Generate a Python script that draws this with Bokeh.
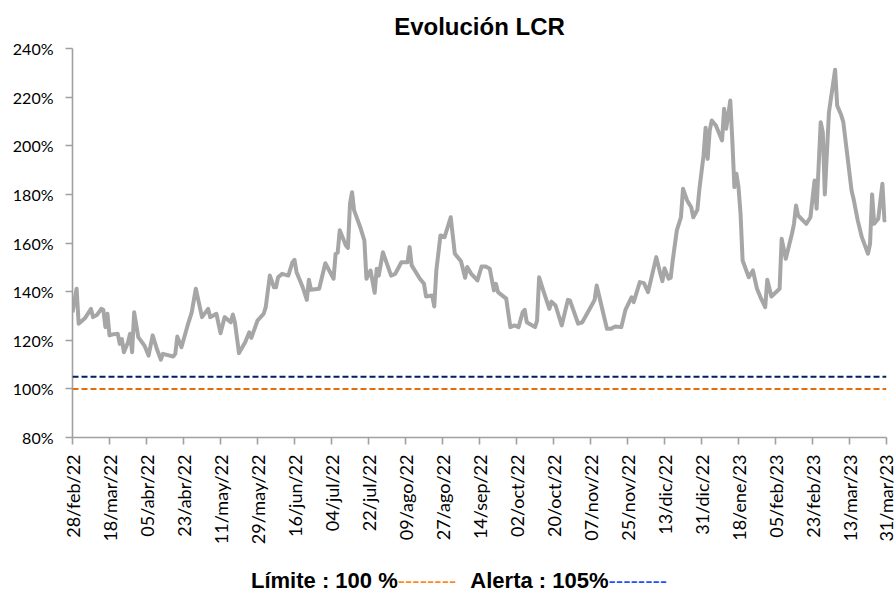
import datetime
from bokeh.plotting import figure
from bokeh.layouts import column
from bokeh.models import Range1d, FixedTicker, PrintfTickFormatter, Span, Div
from bokeh.embed import file_html
from bokeh.resources import INLINE

# ---- data ----
start_date = "2022-02-28"
day_offsets = [0, 2, 3, 4, 6, 9, 10, 12, 14, 15, 16, 17, 18, 20, 22, 23, 24, 25, 27, 28,
               29, 30, 32, 35, 37, 39, 41, 43, 44, 49, 50, 51, 53, 56, 58, 60, 63, 66, 67, 70,
               72, 74, 77, 78, 79, 81, 84, 86, 87, 90, 93, 94, 96, 98, 99, 100, 102, 105, 107, 108,
               109, 112, 114, 115, 116, 120, 123, 127, 128, 129, 130, 133, 134, 135, 136, 137, 140, 142, 143, 145,
               147, 148, 149, 151, 155, 157, 160, 163, 164, 165, 169, 171, 172, 175, 176, 177, 179, 181, 184, 186,
               189, 191, 192, 194, 197, 199, 201, 203, 205, 206, 207, 211, 213, 215, 217, 219, 220, 221, 225, 226,
               227, 229, 232, 233, 235, 238, 241, 242, 246, 248, 253, 254, 255, 260, 262, 264, 267, 269, 272, 273,
               276, 278, 280, 284, 286, 287, 288, 290, 291, 292, 294, 296, 297, 299, 301, 302, 304, 305, 307, 308,
               309, 310, 311, 313, 316, 317, 318, 320, 321, 322, 323, 324, 325, 326, 329, 331, 333, 335, 337, 338,
               340, 344, 345, 347, 350, 351, 352, 353, 357, 359, 361, 362, 364, 365, 366, 368, 371, 372, 374, 375,
               379, 380, 382, 384, 387, 388, 389, 390, 392, 394, 395, 396]
lcr = [131.5, 141.2, 126.8, 127.5, 129.0, 132.9, 129.5, 130.5, 132.9, 132.5, 125.4, 130.9, 122.0, 122.5, 122.7, 118.5, 120.5, 115.1, 119.2, 122.7,
       115.1, 131.5, 121.3, 117.8, 113.7, 122.0, 116.5, 112.0, 114.4, 113.3, 114.4, 121.5, 117.1, 126.1, 131.5, 141.2, 129.5, 132.9, 129.5, 130.9,
       122.9, 129.5, 127.4, 130.6, 127.4, 114.7, 119.2, 123.3, 121.0, 128.1, 130.9, 133.6, 146.6, 141.8, 141.8, 145.9, 147.3, 146.6, 152.1, 153.1,
       148.0, 141.8, 136.6, 144.9, 140.8, 141.2, 151.7, 145.3, 155.6, 156.0, 165.2, 159.0, 158.0, 176.1, 180.9, 173.4, 166.5, 161.0, 145.3, 148.7,
       139.5, 149.4, 146.6, 156.2, 146.6, 147.3, 152.1, 152.1, 158.3, 150.8, 145.3, 143.2, 138.0, 138.4, 133.9, 148.7, 163.1, 162.4, 170.6, 155.6,
       152.5, 145.7, 150.1, 147.3, 144.6, 150.3, 150.3, 149.4, 140.5, 143.2, 139.8, 137.1, 125.4, 126.1, 125.4, 131.5, 132.5, 127.4, 125.4, 128.0,
       145.9, 140.5, 132.9, 135.9, 134.3, 126.1, 136.6, 136.4, 126.8, 127.4, 135.0, 136.6, 142.5, 124.7, 124.7, 125.7, 125.4, 132.5, 137.7, 135.7,
       143.9, 143.5, 139.8, 154.2, 147.3, 144.3, 149.6, 145.3, 145.7, 152.8, 165.2, 170.6, 182.3, 177.5, 174.7, 170.6, 173.7, 182.3, 196.0, 207.4,
       194.6, 206.3, 210.4, 208.3, 202.2, 215.2, 207.0, 218.6, 202.2, 183.0, 188.5, 183.0, 172.0, 152.8, 145.9, 148.7, 141.2, 137.1, 133.6, 144.9,
       138.0, 141.2, 161.7, 153.5, 163.8, 167.9, 175.4, 171.3, 167.9, 170.6, 185.7, 174.1, 209.7, 205.6, 180.0, 213.8, 231.3, 216.6, 212.5, 209.7,
       181.6, 178.0, 169.3, 162.4, 155.6, 159.7, 180.0, 167.9, 170.0, 184.4, 169.3, 169.5]
tick_labels = ["28/feb/22", "18/mar/22", "05/abr/22", "23/abr/22", "11/may/22", "29/may/22",
               "16/jun/22", "04/jul/22", "22/jul/22", "09/ago/22", "27/ago/22", "14/sep/22",
               "02/oct/22", "20/oct/22", "07/nov/22", "25/nov/22", "13/dic/22", "31/dic/22",
               "18/ene/23", "05/feb/23", "23/feb/23", "13/mar/23", "31/mar/23"]
y_ticks = [80, 100, 120, 140, 160, 180, 200, 220, 240]
limit_value = 100
alert_value = 105
title_text = "Evolución LCR"
legend_limit = "Límite : 100 %"
legend_alert = "Alerta : 105%"

# ---- derived tick positions (days since start) ----
month_map = {"ene": 1, "feb": 2, "mar": 3, "abr": 4, "may": 5, "jun": 6, "jul": 7,
             "ago": 8, "sep": 9, "oct": 10, "nov": 11, "dic": 12}
start = datetime.date.fromisoformat(start_date)


def label_to_offset(lbl):
    d, m, y = lbl.split("/")
    return (datetime.date(2000 + int(y), month_map[m], int(d)) - start).days


tick_positions = [label_to_offset(l) for l in tick_labels]

# ---- figure ----
p = figure(width=896, height=560, output_backend="svg", toolbar_location=None,
           x_range=Range1d(tick_positions[0], tick_positions[-1]),
           y_range=Range1d(y_ticks[0], y_ticks[-1]),
           min_border_left=72, min_border_right=10, min_border_top=48, min_border_bottom=123)
p.outline_line_color = None
p.background_fill_color = "white"
p.border_fill_color = "white"
p.xgrid.visible = False
p.ygrid.visible = False

p.title.text = title_text
p.title.align = "center"
p.title.text_font = "Liberation Sans"
p.title.text_font_style = "bold"
p.title.text_font_size = "24px"
p.title.text_color = "#000000"
p.title.standoff = 18

axis_gray = "#A0A0A0"
for ax in (p.xaxis[0], p.yaxis[0]):
    ax.axis_line_color = axis_gray
    ax.axis_line_width = 1.6
    ax.major_tick_line_color = axis_gray
    ax.major_tick_line_width = 1.6
    ax.minor_tick_line_color = None
    ax.major_tick_in = 0
    ax.major_label_text_color = "#000000"
    ax.major_label_text_font = "Lato"

p.xaxis.ticker = FixedTicker(ticks=tick_positions)
p.xaxis.major_label_overrides = {pos: lbl for pos, lbl in zip(tick_positions, tick_labels)}
p.xaxis.major_label_orientation = 3.14159265 / 2
p.xaxis.major_label_text_font_size = "18px"
p.xaxis.major_tick_out = 7
p.xaxis.major_label_standoff = 10

p.yaxis.ticker = FixedTicker(ticks=y_ticks)
p.yaxis.formatter = PrintfTickFormatter(format="%d%%")
p.yaxis.major_label_text_font_size = "16px"
p.yaxis.major_tick_out = 7
p.yaxis.major_label_standoff = 12

p.add_layout(Span(location=alert_value, dimension="width", line_color="#002060",
                  line_width=2, line_dash="6 3"))
p.add_layout(Span(location=limit_value, dimension="width", line_color="#E46C0A",
                  line_width=2, line_dash="6 3"))

p.line(day_offsets, lcr, line_color="#A6A6A6", line_width=4, line_join="round")

# bottom legend (text with coloured dash strings)
legend_html = (
    '<div style="font-family: \'Liberation Sans\', Arial, sans-serif; font-size: 22px; '
    'line-height: 26px; padding-top: 8px; padding-left: 251px; white-space: nowrap; color: #000;">'
    f'<b>{legend_limit}</b><span style="color:#FF8C1A;">--------</span>'
    f'<b style="margin-left:14px;">{legend_alert}</b><span style="color:#1F4FFF;">--------</span>'
    '</div>'
)
legend_div = Div(text=legend_html, width=896, height=37, margin=(0, 0, 0, 0))

layout = column(p, legend_div, spacing=0)

open("out.html", "w").write(file_html(layout, INLINE))
